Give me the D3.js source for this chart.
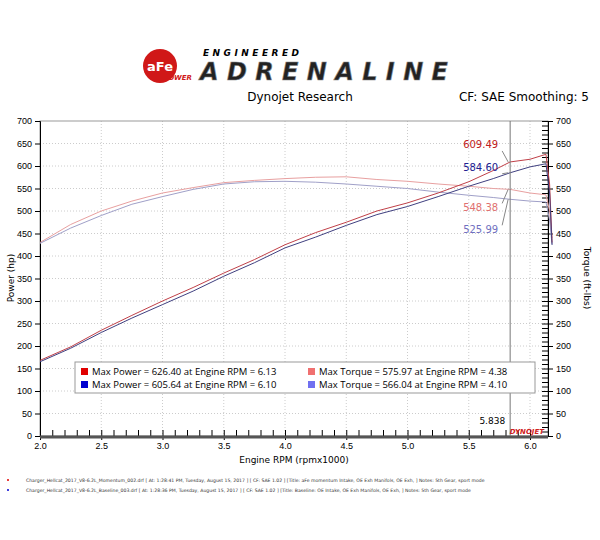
<!DOCTYPE html>
<html><head><meta charset="utf-8">
<script src="https://cdn.jsdelivr.net/npm/d3@7"></script>
<style>body{margin:0;background:#fff;font-family:"DejaVu Sans",sans-serif}</style>
</head><body><svg id="c" width="600" height="540"></svg>
<script>
const rpm      = [2.0, 2.25, 2.5, 2.75, 3.0, 3.25, 3.5, 3.75, 4.0, 4.25, 4.5, 4.75, 5.0, 5.25, 5.5, 5.7, 5.838, 6.0, 6.13, 6.16, 6.18];
const powerMom = [168, 198, 235, 268, 300, 330, 362, 392, 425, 452, 475, 500, 518, 540, 565, 590, 609, 615, 626, 560, 430];
const powerBas = [165, 195, 230, 262, 292, 322, 355, 385, 418, 442, 468, 492, 510, 532, 555, 572, 585, 598, 605, 540, 425];
const torqMom  = [430, 470, 500, 522, 540, 552, 563, 568, 572, 575, 576, 570, 566, 560, 555, 550, 548, 540, 536, 500, 440];
const torqBas  = [428, 462, 490, 515, 532, 548, 560, 565, 566, 564, 560, 555, 550, 542, 535, 530, 526, 522, 520, 480, 425];
const legendRows = [
  ["#e00000","Max Power = 626.40 at Engine RPM = 6.13","#f07070","Max Torque = 575.97 at Engine RPM = 4.38"],
  ["#0000d0","Max Power = 605.64 at Engine RPM = 6.10","#7070f0","Max Torque = 566.04 at Engine RPM = 4.10"]
];
const cursorRpm = 5.838;
const notes = [
  ["#e00000","Charger_Hellcat_2017_V8-6.2L_Momentum_002.drf [ At: 1:28:41 PM, Tuesday, August 15, 2017 ] [ CF: SAE 1.02 ] [Title: aFe momentum Intake, OE Exh Manifols, OE Exh, ]  Notes:  5th Gear, sport mode"],
  ["#0000d0","Charger_Hellcat_2017_V8-6.2L_Baseline_003.drf [ At: 1:28:36 PM, Tuesday, August 15, 2017 ] [ CF: SAE 1.02 ] [Title: Baseline: OE Intake, OE Exh Manifols, OE Exh, ]  Notes:  5th Gear, sport mode"]
];

const svg = d3.select("#c");
const x = d3.scaleLinear().domain([2.0, 6.0]).range([40, 530]);
const y = d3.scaleLinear().domain([0, 700]).range([436, 121]);
const L = 40, R = 548;

// header
svg.append("circle").attr("cx",160).attr("cy",66).attr("r",17).attr("fill","#d01818");
svg.append("text").attr("x",147).attr("y",71).attr("font-size",13).attr("font-weight","bold").attr("fill","#fff").text("aFe");
svg.append("text").attr("x",163).attr("y",80).attr("font-size",7).attr("font-style","italic").attr("font-weight","bold").attr("fill","#d01818").text("POWER");
svg.append("text").attr("x",203).attr("y",56).attr("font-size",9).attr("font-weight","bold").attr("font-style","italic").attr("textLength",96).text("ENGINEERED");
svg.append("text").attr("x",200).attr("y",80).attr("font-size",24).attr("font-weight","bold").attr("font-style","italic")
  .attr("fill","#222").attr("stroke","#888").attr("stroke-width",0.6).attr("textLength",248).text("ADRENALINE");
svg.append("text").attr("x",300).attr("y",101).attr("text-anchor","middle").attr("font-size",12).text("Dynojet Research");
svg.append("text").attr("x",589).attr("y",101).attr("text-anchor","end").attr("font-size",12).text("CF: SAE Smoothing: 5");

// grid
const g = svg.append("g");
d3.range(2.5, 6.1, 0.5).forEach(v => g.append("line").attr("x1",x(v)).attr("x2",x(v)).attr("y1",121).attr("y2",436).attr("stroke","#ccc").attr("stroke-dasharray","1,2"));
d3.range(50, 700, 50).forEach(v => g.append("line").attr("x1",L).attr("x2",R).attr("y1",y(v)).attr("y2",y(v)).attr("stroke","#ccc").attr("stroke-dasharray","1,2"));
g.append("rect").attr("x",L).attr("y",121).attr("width",R-L).attr("height",315).attr("fill","none").attr("stroke","#999");

// axes
const ticks = d3.range(0, 701, 50);
svg.append("g").attr("transform",`translate(${L},0)`).call(d3.axisLeft(y).tickValues(ticks).tickSize(5)).call(a=>a.selectAll("text").attr("font-size",9));
svg.append("g").attr("transform",`translate(${R},0)`).call(d3.axisRight(y).tickValues(ticks).tickSize(5)).call(a=>a.selectAll("text").attr("font-size",9));
svg.append("g").attr("transform",`translate(${R},0)`).call(d3.axisLeft(y).ticks(70).tickFormat("").tickSize(6)).call(a=>a.select(".domain").remove());
svg.append("g").attr("transform","translate(0,436)").call(d3.axisBottom(x).tickValues(d3.range(2,6.01,0.5)).tickFormat(d3.format(".1f")).tickSize(4))
  .call(a=>a.selectAll("text").attr("font-size",9));
svg.append("g").attr("transform","translate(0,436)").call(d3.axisTop(x).ticks(40).tickFormat("").tickSize(6)).call(a=>a.select(".domain").remove());
svg.append("line").attr("x1",L).attr("x2",R).attr("y1",437).attr("y2",437).attr("stroke","#555").attr("stroke-width",3);
svg.append("text").attr("x",294).attr("y",463).attr("text-anchor","middle").attr("font-size",9).text("Engine RPM (rpmx1000)");
svg.append("text").attr("transform","translate(14,278) rotate(-90)").attr("text-anchor","middle").attr("font-size",9).text("Power (hp)");
svg.append("text").attr("transform","translate(584,278) rotate(90)").attr("text-anchor","middle").attr("font-size",9).text("Torque (ft-lbs)");

// curves
const line = d3.line().x((d,i)=>x(rpm[i])).y(d=>y(d));
[[torqMom,"#e8a0a0"],[torqBas,"#a0a0c8"],[powerMom,"#c04048"],[powerBas,"#404080"]].forEach(([s,c]) =>
  svg.append("path").attr("d",line(s)).attr("fill","none").attr("stroke",c).attr("stroke-width",1));

// cursor
svg.append("line").attr("x1",x(cursorRpm)).attr("x2",x(cursorRpm)).attr("y1",121).attr("y2",436).attr("stroke","#777");
const ci = rpm.indexOf(cursorRpm);
const marks = [[powerMom[ci],"#c02020","609.49",-12,-14],[powerBas[ci],"#202090","584.60",-12,-2],[torqMom[ci],"#e07070","548.38",-12,22],[torqBas[ci],"#7070c0","525.99",-12,34]];
marks.forEach(([v,c,t,dx,dy]) => {
  const px = x(cursorRpm), py = y(v);
  svg.append("line").attr("x1",px+dx+4).attr("y1",py+dy-(dy<0?-3:8)).attr("x2",px-2).attr("y2",py).attr("stroke","#888");
  svg.append("text").attr("x",px+dx).attr("y",py+dy).attr("text-anchor","end").attr("font-size",10).attr("fill",c).text(t);
});
svg.append("text").attr("x",x(cursorRpm)-5).attr("y",424).attr("text-anchor","end").attr("font-size",9).text(cursorRpm.toFixed(3));
svg.append("text").attr("x",x(6.0)+14).attr("y",434).attr("text-anchor","end").attr("font-size",7).attr("font-weight","bold").attr("font-style","italic").attr("fill","#d02020").text("DYNOJET");

// legend
svg.append("rect").attr("x",75).attr("y",362).attr("width",460).attr("height",31).attr("fill","#fff").attr("stroke","#999");
legendRows.forEach((r,i) => {
  const yy = 375 + i*13;
  svg.append("rect").attr("x",81).attr("y",yy-7).attr("width",7).attr("height",7).attr("fill",r[0]);
  svg.append("text").attr("x",92).attr("y",yy).attr("font-size",9.5).attr("font-family","Open Sans").text(r[1]);
  svg.append("rect").attr("x",308).attr("y",yy-7).attr("width",7).attr("height",7).attr("fill",r[2]);
  svg.append("text").attr("x",319).attr("y",yy).attr("font-size",9.5).attr("font-family","Open Sans").text(r[3]);
});

// notes
notes.forEach((n,i) => {
  svg.append("circle").attr("cx",8).attr("cy",480+i*10).attr("r",1).attr("fill",n[0]);
  svg.append("text").attr("x",26).attr("y",482+i*10).attr("font-size",4.6).attr("fill","#333").text(n[1]);
});
</script></body></html>
